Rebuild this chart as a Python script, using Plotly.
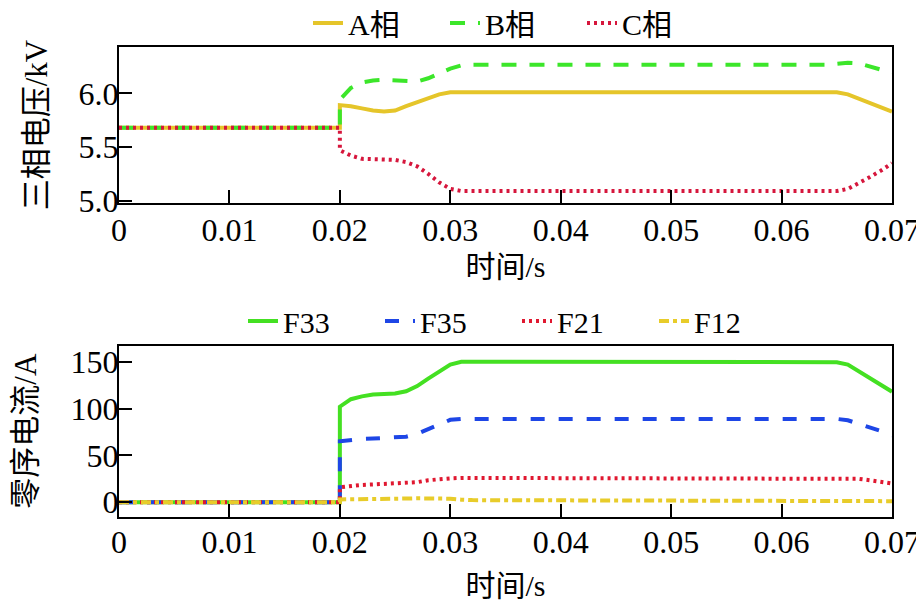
import plotly.graph_objects as go

# time axis (s); 0.02 appears twice for the fault step
t = [0, 0.02, 0.02, 0.021, 0.022, 0.023, 0.024, 0.025, 0.026, 0.027, 0.028,
     0.029, 0.030, 0.031, 0.032, 0.035, 0.040, 0.050, 0.060, 0.064, 0.065,
     0.066, 0.067, 0.068, 0.069, 0.070]

# three-phase voltage (kV)
va = [5.68, 5.68, 5.89, 5.88, 5.86, 5.84, 5.83, 5.84, 5.88, 5.92, 5.96,
      5.99, 6.01, 6.01, 6.01, 6.01, 6.01, 6.01, 6.01, 6.01, 6.01,
      5.99, 5.95, 5.91, 5.87, 5.83]
vb = [5.68, 5.68, 5.94, 6.05, 6.10, 6.12, 6.125, 6.12, 6.11, 6.11, 6.14,
      6.18, 6.23, 6.26, 6.265, 6.265, 6.265, 6.265, 6.265, 6.265, 6.275,
      6.285, 6.28, 6.25, 6.22, 6.19]
vc = [5.68, 5.68, 5.47, 5.42, 5.39, 5.385, 5.38, 5.38, 5.36, 5.32, 5.25,
      5.17, 5.11, 5.09, 5.09, 5.09, 5.09, 5.09, 5.09, 5.09, 5.09,
      5.11, 5.16, 5.22, 5.28, 5.35]

# zero-sequence current (A)
f33 = [0, 0, 102, 110, 113, 115, 115.5, 116, 118.5, 124, 132,
       140, 147, 150, 150, 150, 150, 150, 150, 150, 149.5,
       147, 140, 132, 125, 118]
f35 = [0, 0, 65, 66.5, 67.5, 68, 68.5, 69, 70, 73, 78,
       84, 88, 89, 89, 89, 89, 89, 89, 89, 89,
       87.5, 84, 80, 76, 71]
f21 = [0, 0, 16, 17.5, 18.5, 19, 19.5, 20, 20.5, 21.5, 23.5,
       25, 25.5, 26, 26, 26, 26, 26, 26, 26, 26,
       26, 25, 23.5, 22, 20]
f12 = [0, 0, 3, 3, 3.2, 3.4, 3.6, 3.8, 4, 4.2, 4.3,
       4.3, 3.8, 2.8, 2.3, 2.2, 2.2, 2.2, 2.2, 2.0, 2.0,
       1.9, 1.8, 1.6, 1.4, 1.2]

x_ticks = [0, 0.01, 0.02, 0.03, 0.04, 0.05, 0.06, 0.07]
x_labels = ["0", "0.01", "0.02", "0.03", "0.04", "0.05", "0.06", "0.07"]
v_ticks = [5.0, 5.5, 6.0]
v_labels = ["5.0", "5.5", "6.0"]
i_ticks = [0, 50, 100, 150]

FONT = "Liberation Serif, Times New Roman, Noto Sans CJK SC"

# page body adds an 8px offset, so the figure is drawn 8px smaller
W, H = 916, 595

fig = go.Figure()

def add(y, name, color, dash, xa, ya, leg):
    fig.add_trace(go.Scatter(
        x=t, y=y, name=name, mode="lines", xaxis=xa, yaxis=ya, legend=leg,
        line=dict(color=color, width=4, dash=dash),
    ))

add(va, "A相", "#E5C52A", "solid", "x", "y", "legend")
add(vb, "B相", "#3CE62A", "15px,13px", "x", "y", "legend")
add(vc, "C相", "#D6163C", "3px,4px", "x", "y", "legend")

add(f33, "F33", "#44E022", "solid", "x2", "y2", "legend2")
add(f35, "F35", "#1E46E6", "14px,14px", "x2", "y2", "legend2")
add(f21, "F21", "#E01830", "3px,4px", "x2", "y2", "legend2")
add(f12, "F12", "#E8CC2A", "10px,4px,4px,4px", "x2", "y2", "legend2")

x_dom = [111 / W, 884 / W]
axis_common = dict(
    showline=True, mirror=True, linecolor="black", linewidth=2,
    ticks="inside", ticklen=13, tickwidth=2, tickcolor="black",
    showgrid=False, zeroline=False, automargin=False,
    tickfont=dict(family=FONT, size=32, color="black"),
)
legend_common = dict(
    orientation="h", xanchor="left", yanchor="middle", entrywidth=92,
    bgcolor="rgba(0,0,0,0)", font=dict(family=FONT, size=30),
)

fig.update_layout(
    width=W, height=H,
    margin=dict(l=0, r=0, t=0, b=0, autoexpand=False),
    paper_bgcolor="white", plot_bgcolor="white",
    font=dict(family=FONT, size=30, color="black"),
    xaxis=dict(axis_common, domain=x_dom, anchor="y", range=[0, 0.07],
               tickvals=x_ticks, ticktext=x_labels, ticklabelstandoff=-3,
               title=dict(text="时间/s", font=dict(size=30), standoff=9)),
    yaxis=dict(axis_common, domain=[1 - 195.3 / H, 1 - 38.7 / H], anchor="x",
               range=[4.976, 6.434], tickvals=v_ticks, ticktext=v_labels,
               ticklabelstandoff=-8,
               title=dict(text="三相电压/kV", font=dict(size=31), standoff=22)),
    xaxis2=dict(axis_common, domain=x_dom, anchor="y2", range=[0, 0.07],
                tickvals=x_ticks, ticktext=x_labels, ticklabelstandoff=-4,
                title=dict(text="时间/s", font=dict(size=30), standoff=16)),
    yaxis2=dict(axis_common, domain=[1 - 508.7 / H, 1 - 337.7 / H], anchor="x2",
                range=[-15.4, 167.1], tickvals=i_ticks, ticklabelstandoff=-8,
                title=dict(text="零序电流/A", font=dict(size=31), standoff=28)),
    legend=dict(legend_common, x=300 / W, y=1 - 15 / H),
    legend2=dict(legend_common, x=235 / W, y=1 - 313 / H),
)

fig.write_html("out.html")
